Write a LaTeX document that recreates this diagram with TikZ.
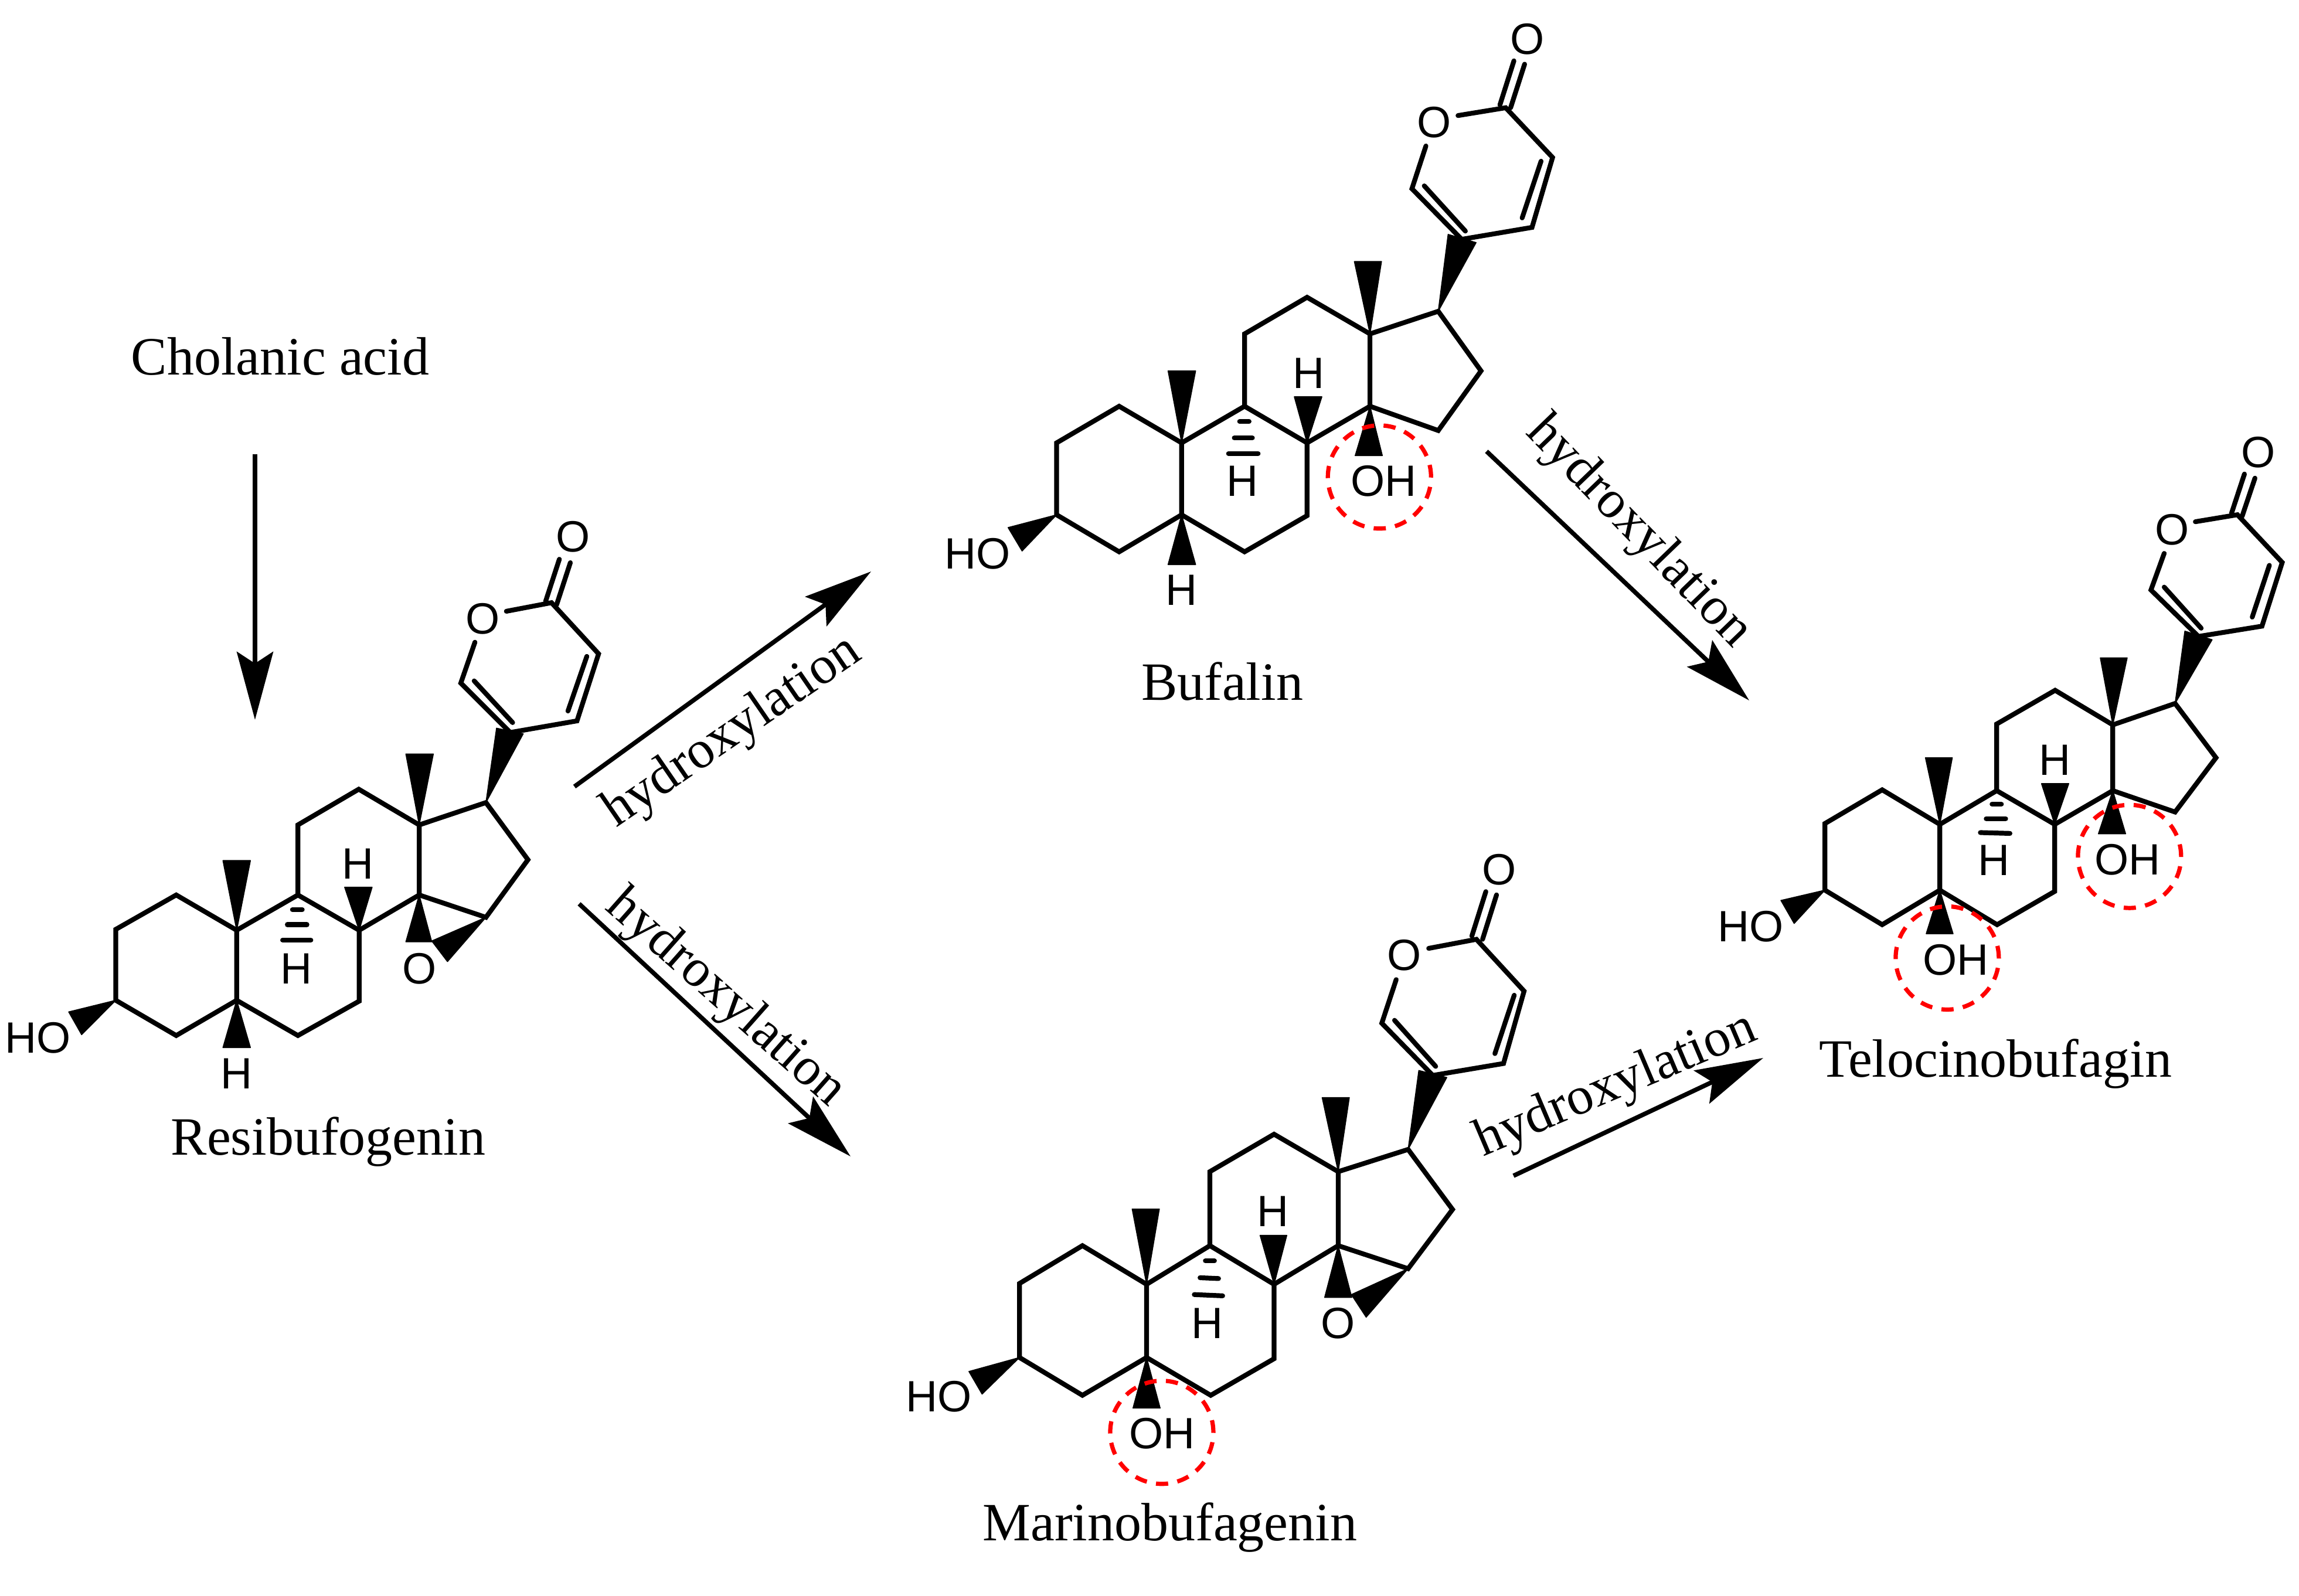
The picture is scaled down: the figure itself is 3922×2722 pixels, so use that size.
\documentclass[tikz,border=0pt]{standalone}
\usepackage{fontspec}
\setmainfont{Liberation Serif}
\newfontfamily\atomfont{Liberation Sans}
\usetikzlibrary{arrows.meta}
\tikzset{
  bond/.style={line width=2.05pt,line cap=round,line join=miter,miter limit=4},
  wedgefill/.style={fill=black,draw=black,line width=0.4pt,line join=round},
  atomlabel/.style={font=\atomfont\fontsize{18.7}{20}\selectfont,inner sep=0pt,text=black},
  caption/.style={font=\fontsize{23}{26}\selectfont,inner sep=0pt,text=black},
  steplabel/.style={font=\fontsize{22.8}{26}\selectfont,inner sep=0pt,text=black},
  redring/.style={circle,draw=red,line width=1.8pt,minimum size=44pt,inner sep=0pt,dash pattern=on 5.2pt off 4pt},
  reaction/.style={line width=1.9pt,-{Stealth[length=29pt,width=15.5pt,inset=5pt]}},
}
\newcommand{\atoms}[2]{\foreach \n/\px/\py in {#2}{\coordinate (#1\n) at (\px,\py);}}
\newcommand{\wdg}[3]{\filldraw[wedgefill] (#1) -- (#2) -- (#3) -- cycle;}
\newcommand{\skeleton}[1]{%
  \draw[bond] (#1a1)--(#1a2)--(#1a3)--(#1c10)--(#1c5)--(#1a4)--cycle;
  \draw[bond] (#1c10)--(#1c9)--(#1c8)--(#1b7)--(#1b6)--(#1c5);
  \draw[bond] (#1c9)--(#1c11)--(#1c12)--(#1c13)--(#1c14)--(#1c8);
  \draw[bond] (#1c13)--(#1c17)--(#1c16)--(#1c15)--(#1c14);
  \draw[bond] (#1ob)--(#1p2)--(#1p1)--(#1p5)--(#1p4)--(#1p3)--(#1oa);
  \draw[bond] (#1d1a)--(#1d1b);
  \draw[bond] (#1d2a)--(#1d2b);
  \draw[bond] (#1k1a)--(#1k1b);
  \draw[bond] (#1k2a)--(#1k2b);
  \draw[bond] (#1h1a)--(#1h1b);
  \draw[bond] (#1h2a)--(#1h2b);
  \draw[bond] (#1h3a)--(#1h3b);
  \wdg{#1c10}{#1m1}{#1m2}
  \wdg{#1c13}{#1n1}{#1n2}
  \wdg{#1c8}{#1t1}{#1t2}
  \wdg{#1c5}{#1u1}{#1u2}
  \wdg{#1a1}{#1w1}{#1w2}
  \wdg{#1c17}{#1v1}{#1v2}
  \wdg{#1c14}{#1x1}{#1x2}
}
\begin{document}
\begin{tikzpicture}[x=0.25pt,y=-0.25pt]
\useasboundingbox (0,0) rectangle (3922,2722);

% Resibufogenin
\begin{scope}[shift={(0,850)},x=0.16741pt,y=-0.18335pt]
\atoms{R}{a1/295/1168,a2/295/1003,a3/449/923,c10/603/1005,c5/603/1168,a4/449/1250,
 c9/759/923,c8/915/1005,b7/915/1170,b6/759/1250,c11/759/760,c12/914/677,c13/1068/760,c14/1068/923,
 c17/1238/708,c16/1345/841,c15/1238/975,p1/1300/545,p2/1174/430,p3/1405/243,p4/1525/362,p5/1470/518,
 oa/1290/263,ob/1210/335,d1a/1208/425,d1b/1306/522,d2a/1495/368,d2b/1447/495,
 k1a/1425/142,k1b/1390/240,k2a/1453/150,k2b/1418/248,
 h1a/745/957,h1b/770/957,h2a/732/992,h2b/782/992,h3a/720/1028,h3b/792/1028,
 m1/568/843,m2/638/843,n1/1034/595,n2/1104/595,t1/878/905,t2/948/905,u1/568/1278,u2/638/1278,
 w1/175/1195,w2/208/1248,v1/1265/535,v2/1333/548,x1/1034/1032,x2/1100/1032,
 y1/1100/1030,y2/1140/1078}
\skeleton{R}
\wdg{Rc15}{Ry1}{Ry2}
\node[atomlabel] (RO1) at (1460,90) {O};
\node[atomlabel] (RO2) at (1230,280) {O};
\node[atomlabel] (RO3) at (1068,1095) {O};
\node[atomlabel] (RH1) at (912,850) {H};
\node[atomlabel] (RH2) at (755,1095) {H};
\node[atomlabel] (RH3) at (603,1338) {H};
\node[atomlabel] (RHO) at (97,1256) {HO};
\end{scope}

% Bufalin
\begin{scope}[shift={(1550,0)},x=0.17538pt,y=-0.17538pt]
\atoms{B}{a1/360/1252,a2/360/1077,a3/512/988,c10/664/1077,c5/664/1252,a4/512/1342,
 c9/817/988,c8/969/1077,b7/969/1254,b6/817/1342,c11/817/812,c12/969/723,c13/1122/812,c14/1122/988,
 c17/1288/757,c16/1392/902,c15/1288/1047,p1/1345/582,p2/1224/459,p3/1452/262,p4/1566/383,p5/1516/553,
 oa/1336/281,ob/1258/355,d1a/1254/452,d1b/1354/562,d2a/1538/392,d2b/1492/530,
 k1a/1472/148,k1b/1438/255,k2a/1498/156,k2b/1464/262,
 h1a/805/1025,h1b/828/1025,h2a/792/1065,h2b/836/1065,h3a/778/1103,h3b/850/1103,
 m1/631/902,m2/698/902,n1/1084/636,n2/1150/636,t1/938/965,t2/1005/965,u1/631/1373,u2/698/1373,
 w1/242/1283,w2/276/1340,v1/1312/570,v2/1380/590,x1/1086/1108,x2/1152/1108}
\skeleton{B}
\node[atomlabel] (BO1) at (1504,95) {O};
\node[atomlabel] (BO2) at (1278,297) {O};
\node[atomlabel] (BH1) at (973,908) {H};
\node[atomlabel] (BH2) at (812,1170) {H};
\node[atomlabel] (BH3) at (664,1435) {H};
\node[atomlabel] (BHO) at (168,1346) {HO};
\node[atomlabel] (BOH) at (1155,1170) {OH};
\node[redring] (Bring) at (1145,1160) {};
\end{scope}

% Telocinobufagin
\begin{scope}[shift={(2880,700)},x=0.16613pt,y=-0.17538pt]
\atoms{T}{a1/351/1167,a2/351/1005,a3/498/923,c10/646/1007,c5/646/1167,a4/498/1251,
 c9/792/925,c8/941/1007,b7/941/1170,b6/793/1251,c11/792/763,c12/942/681,c13/1090/765,c14/1090/925,
 c17/1250/713,c16/1355/845,c15/1250/977,p1/1310/550,p2/1188/437,p3/1410/254,p4/1525/370,p5/1473/525,
 oa/1302/271,ob/1222/348,d1a/1222/430,d1b/1317/530,d2a/1492/377,d2b/1448/503,
 k1a/1428/155,k1b/1395/250,k2a/1455/165,k2b/1422/258,
 h1a/780/958,h1b/804/958,h2a/765/993,h2b/815/993,h3a/750/1027,h3b/826/1029,
 m1/609/845,m2/678/845,n1/1058/602,n2/1127/602,t1/907/908,t2/977/908,u1/611/1273,u2/680/1273,
 w1/238/1192,w2/272/1248,v1/1275/537,v2/1345/558,x1/1053/1030,x2/1123/1030}
\skeleton{T}
\node[atomlabel] (TO1) at (1463,102) {O};
\node[atomlabel] (TO2) at (1243,290) {O};
\node[atomlabel] (TH1) at (942,850) {H};
\node[atomlabel] (TH2) at (785,1095) {H};
\node[atomlabel] (THO) at (160,1255) {HO};
\node[atomlabel] (TOHa) at (1128,1093) {OH};
\node[atomlabel] (TOHb) at (687,1337) {OH};
\node[redring] (Tringa) at (1133,1085) {};
\node[redring] (Tringb) at (665,1332) {};
\end{scope}

% Marinobufagenin
\begin{scope}[shift={(1500,1430)},x=0.17538pt,y=-0.17538pt]
\atoms{M}{a1/341/1263,a2/341/1083,a3/494/991,c10/650/1085,c5/650/1263,a4/494/1355,
 c9/804/991,c8/960/1085,b7/960/1266,b6/806/1355,c11/804/811,c12/960/720,c13/1116/811,c14/1116/991,
 c17/1286/757,c16/1394/903,c15/1286/1047,p1/1346/577,p2/1222/450,p3/1452/246,p4/1568/372,p5/1518/548,
 oa/1336/268,ob/1257/344,d1a/1253/443,d1b/1353/555,d2a/1544/382,d2b/1497/524,
 k1a/1475/130,k1b/1441/238,k2a/1501/138,k2b/1467/246,
 h1a/793/1028,h1b/815/1028,h2a/780/1069,h2b/825/1071,h3a/766/1110,h3b/835/1113,
 m1/615/902,m2/681/902,n1/1077/631,n2/1143/631,t1/926/966,t2/991/966,u1/617/1386,u2/683/1386,
 w1/218/1297,w2/250/1352,v1/1312/565,v2/1380/582,x1/1083/1117,x2/1149/1117,
 y1/1148/1110,y2/1184/1165}
\skeleton{M}
\wdg{Mc15}{My1}{My2}
\node[atomlabel] (MO1) at (1508,76) {O};
\node[atomlabel] (MO2) at (1277,285) {O};
\node[atomlabel] (MO3) at (1115,1180) {O};
\node[atomlabel] (MH1) at (957,908) {H};
\node[atomlabel] (MH2) at (798,1180) {H};
\node[atomlabel] (MHO) at (145,1358) {HO};
\node[atomlabel] (MOH) at (688,1448) {OH};
\node[redring] (Mring) at (687,1445) {};
\end{scope}

% captions
\node[caption] (chol) at (478,608) {Cholanic acid};
\node[caption] (resi) at (560,1948) {Resibufogenin};
\node[caption] (bufa) at (2085,1163) {Bufalin};
\node[caption] (telo) at (3404,1815) {Telocinobufagin};
\node[caption] (mari) at (1996,2606) {Marinobufagenin};

% reaction arrows
\coordinate (a1s) at (435,775);   \coordinate (a1e) at (435,1228);
\coordinate (a2s) at (980,1342);  \coordinate (a2e) at (1486,975);
\coordinate (a3s) at (988,1542);  \coordinate (a3e) at (1451,1973);
\coordinate (a4s) at (2536,770);  \coordinate (a4e) at (2984,1195);
\coordinate (a5s) at (2582,2006); \coordinate (a5e) at (3008,1805);
\draw[reaction] (a1s) -- (a1e);
\draw[reaction] (a2s) -- (a2e);
\draw[reaction] (a3s) -- (a3e);
\draw[reaction] (a4s) -- (a4e);
\draw[reaction] (a5s) -- (a5e);

\node[steplabel,rotate=34.5]  (l2) at (1250,1250) {hydroxylation};
\node[steplabel,rotate=-41.5] (l3) at (1237,1704) {hydroxylation};
\node[steplabel,rotate=-46]   (l4) at (2795,908)  {hydroxylation};
\node[steplabel,rotate=23]    (l5) at (2757,1853) {hydroxylation};
\end{tikzpicture}
\end{document}
